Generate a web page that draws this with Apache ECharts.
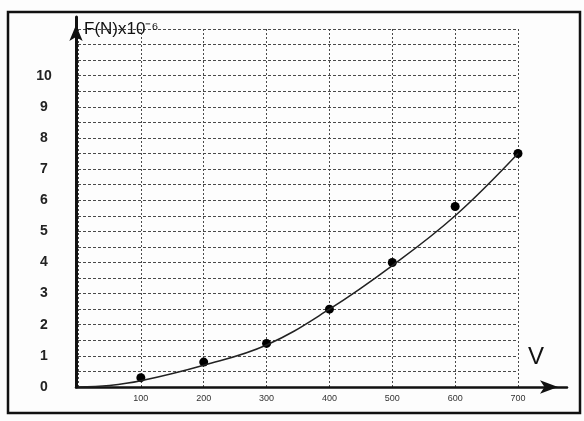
<!DOCTYPE html>
<html>
<head>
<meta charset="utf-8">
<script src="https://cdn.jsdelivr.net/npm/echarts@6/dist/echarts.min.js"></script>
<style>
  html, body { margin: 0; padding: 0; background: #fff; }
  #chart { width: 584px; height: 421px; }
</style>
</head>
<body>
<div id="chart"></div>
<script>
// measured points (V, F)
const voltage = [100, 200, 300, 400, 500, 600, 700];
const force = [0.3, 0.8, 1.4, 2.5, 4.0, 5.8, 7.5];
// hand drawn fit curve
const curveV = [0, 50, 100, 200, 300, 400, 500, 600, 700];
const curveF = [0, 0.05, 0.2, 0.7, 1.35, 2.5, 3.9, 5.5, 7.5];
// tick labels
const xTickLabels = ['100', '200', '300', '400', '500', '600', '700'];
const yTickLabels = ['0', '1', '2', '3', '4', '5', '6', '7', '8', '9', '10'];

const font = '"Liberation Sans", Arial, sans-serif';
const gridLine = (type) => ({ show: true, lineStyle: { color: '#4a4a4a', width: 1, type: type } });

let myEchart = echarts.init(document.getElementById('chart'));
let option = {
  backgroundColor: '#fdfdfd',
  animation: false,
  graphic: [{
    // outer frame of the scan
    type: 'rect',
    shape: { x: 8, y: 12, width: 572, height: 401 },
    style: { fill: 'none', stroke: '#111', lineWidth: 2.5 }
  }],
  grid: [
    { left: 78, right: 66, top: 29, bottom: 34 },
    // axis lines with arrows, a bit longer than the plot
    { left: 76, right: 17, top: 17, bottom: 34 }
  ],
  xAxis: [
    {
      type: 'value', gridIndex: 0, min: 0, max: 700, interval: 100,
      name: 'V',
      nameLocation: 'end',
      nameGap: 10,
      nameTextStyle: { fontSize: 24, fontFamily: font, color: '#111', align: 'left', verticalAlign: 'bottom', padding: [0, 0, 18, 0] },
      axisLine: { show: false },
      axisTick: { show: false },
      axisLabel: {
        margin: 7, fontSize: 9, fontFamily: font, color: '#333',
        formatter: v => xTickLabels.includes(String(v)) ? String(v) : ''
      },
      splitLine: gridLine([2, 2])
    },
    {
      type: 'value', gridIndex: 1, min: 0, max: 1,
      axisLine: { show: true, symbol: ['none', 'arrow'], symbolSize: [10, 18], symbolOffset: [0, -9], lineStyle: { color: '#111', width: 2.5 } },
      axisTick: { show: false }, axisLabel: { show: false }, splitLine: { show: false }
    }
  ],
  yAxis: [
    {
      type: 'value', gridIndex: 0, min: 0, max: 11.5, interval: 0.5,
      name: 'F(N)x10⁻⁶',
      nameLocation: 'end',
      nameGap: 0,
      nameTextStyle: { fontSize: 17, fontFamily: font, color: '#111', align: 'left', verticalAlign: 'middle', padding: [0, 0, -4, 6] },
      axisLine: { show: false },
      axisTick: { show: false },
      axisLabel: {
        margin: 34, align: 'center', fontSize: 14, fontWeight: 'bold', fontFamily: font, color: '#222',
        formatter: v => yTickLabels.includes(String(v)) ? String(v) : ''
      },
      splitLine: gridLine([3, 2])
    },
    {
      type: 'value', gridIndex: 1, min: 0, max: 1,
      axisLine: { show: true, symbol: ['none', 'arrow'], symbolSize: [10, 16], symbolOffset: [0, -8], lineStyle: { color: '#111', width: 3 } },
      axisTick: { show: false }, axisLabel: { show: false }, splitLine: { show: false }
    }
  ],
  series: [
    {
      name: 'fit',
      type: 'line',
      xAxisIndex: 0, yAxisIndex: 0,
      data: curveV.map((v, i) => [v, curveF[i]]),
      smooth: 0.4,
      showSymbol: false,
      lineStyle: { color: '#222', width: 1.5 }
    },
    {
      name: 'measured',
      type: 'scatter',
      xAxisIndex: 0, yAxisIndex: 0,
      data: voltage.map((v, i) => [v, force[i]]),
      symbolSize: 9,
      itemStyle: { color: '#000', opacity: 1 }
    }
  ]
};
myEchart.setOption(option);
</script>
</body>
</html>
